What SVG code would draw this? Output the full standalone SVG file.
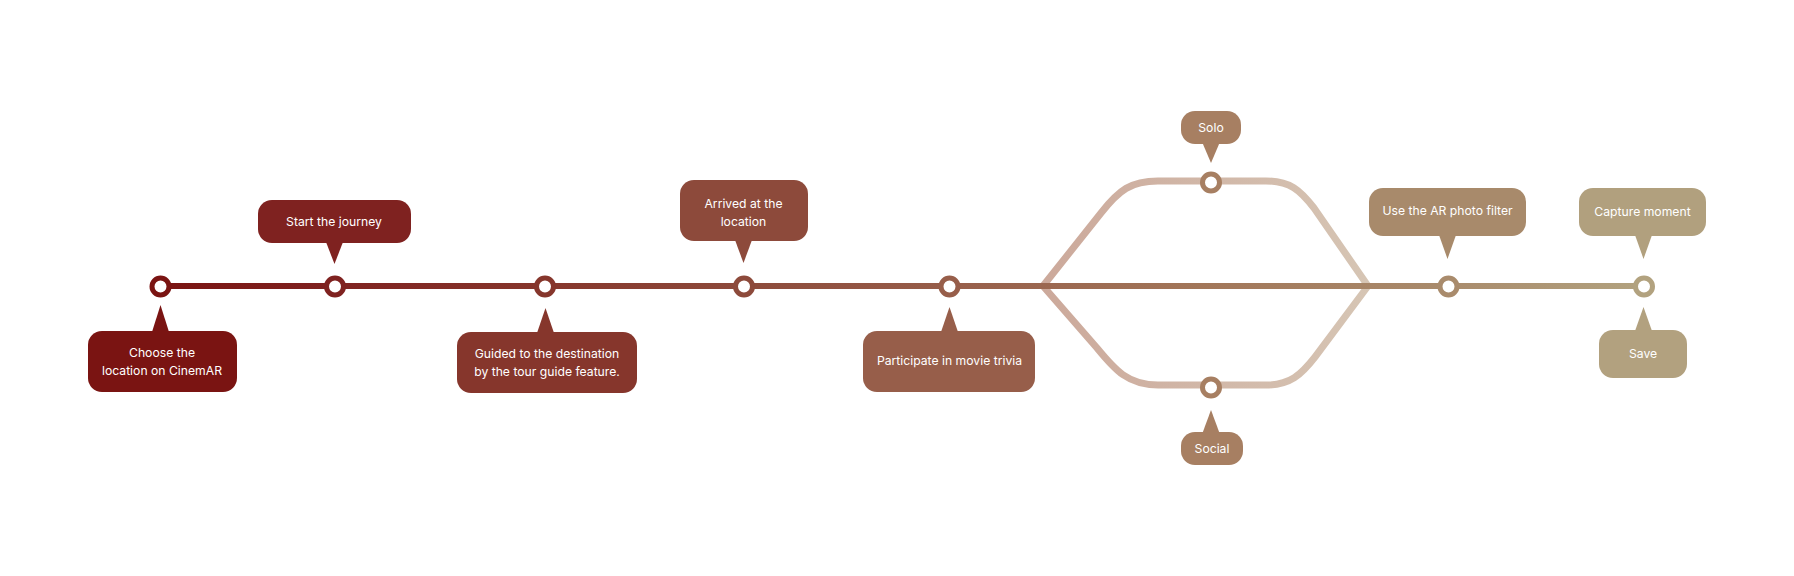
<svg xmlns="http://www.w3.org/2000/svg" width="1794" height="576" viewBox="0 0 1794 576">
<defs>
<linearGradient id="mainGrad" gradientUnits="userSpaceOnUse" x1="160" y1="0" x2="1644" y2="0">
<stop offset="0" stop-color="#7a1412"/>
<stop offset="0.118" stop-color="#7f2220"/>
<stop offset="0.259" stop-color="#86362c"/>
<stop offset="0.393" stop-color="#8d4a3b"/>
<stop offset="0.532" stop-color="#975e4a"/>
<stop offset="0.70" stop-color="#a27659"/>
<stop offset="0.868" stop-color="#a98b6c"/>
<stop offset="1" stop-color="#b2a27f"/>
</linearGradient>
<linearGradient id="branchGrad" gradientUnits="userSpaceOnUse" x1="1043" y1="0" x2="1368" y2="0">
<stop offset="0" stop-color="#cca99b"/>
<stop offset="1" stop-color="#d6c5b4"/>
</linearGradient>
<style>
.lbl{font-family:Inter,"Liberation Sans",sans-serif;font-size:12.2px;fill:#ffffff;text-anchor:middle}
.stn{fill:#ffffff;stroke-width:5}
.branch{fill:none;stroke:url(#branchGrad);stroke-width:7;stroke-linejoin:round}
.main{fill:none;stroke:url(#mainGrad);stroke-width:6}
</style>
</defs>
<rect width="1794" height="576" fill="#ffffff"/>
<g id="connectors">
<path class="branch" d="M1043 286 L1101 213 C1119 190 1131 181 1158 181 L1266 181 C1290 181 1300 190 1314 208 L1368 286"/>
<path class="branch" d="M1043 286 L1097 348 C1115 370 1128 385 1158 385 L1266 385 C1290 385 1301 375 1315 357 L1368 286"/>
<path class="main" d="M160 286 L1644 286"/>
</g>
<g id="node-choose">
<rect x="88" y="331" width="149" height="61" rx="14" fill="#7a1412"/>
<polygon points="152,332 169,332 160.5,305" fill="#7a1412"/>
<circle class="stn" cx="160.5" cy="286.5" r="8.5" stroke="#7a1412"/>
<text class="lbl" x="162" y="357">Choose the</text>
<text class="lbl" x="162" y="375">location on CinemAR</text>
</g>
<g id="node-start">
<rect x="258" y="200" width="153" height="43" rx="14" fill="#7f2220"/>
<polygon points="326,242 343,242 334.5,264" fill="#7f2220"/>
<circle class="stn" cx="335" cy="286.5" r="8.5" stroke="#7f2220"/>
<text class="lbl" x="334" y="226">Start the journey</text>
</g>
<g id="node-guided">
<rect x="457" y="332" width="180" height="61" rx="14" fill="#86362c"/>
<polygon points="537,333 554,333 545.5,308" fill="#86362c"/>
<circle class="stn" cx="545" cy="286.5" r="8.5" stroke="#86362c"/>
<text class="lbl" x="547" y="357.5">Guided to the destination</text>
<text class="lbl" x="547" y="375.5">by the tour guide feature.</text>
</g>
<g id="node-arrived">
<rect x="680" y="180" width="128" height="61" rx="14" fill="#8d4a3b"/>
<polygon points="735,240 752,240 743.5,263" fill="#8d4a3b"/>
<circle class="stn" cx="744" cy="286.5" r="8.5" stroke="#8d4a3b"/>
<text class="lbl" x="743.5" y="207.5">Arrived at the</text>
<text class="lbl" x="743.5" y="225.5">location</text>
</g>
<g id="node-trivia">
<rect x="863" y="331" width="172" height="61" rx="14" fill="#975e4a"/>
<polygon points="941,332 958,332 949.5,307" fill="#975e4a"/>
<circle class="stn" cx="949.5" cy="286.5" r="8.5" stroke="#975e4a"/>
<text class="lbl" x="949.5" y="365">Participate in movie trivia</text>
</g>
<g id="node-solo">
<rect x="1181" y="111" width="60" height="33" rx="14" fill="#a77f62"/>
<polygon points="1202.5,143 1219.5,143 1211,163" fill="#a77f62"/>
<circle class="stn" cx="1211" cy="182.5" r="8.5" stroke="#a77f62"/>
<text class="lbl" x="1211" y="131.5">Solo</text>
</g>
<g id="node-social">
<rect x="1181" y="432" width="62" height="33" rx="14" fill="#a77f62"/>
<polygon points="1202.5,433 1219.5,433 1211,410" fill="#a77f62"/>
<circle class="stn" cx="1211" cy="387.5" r="8.5" stroke="#a77f62"/>
<text class="lbl" x="1212" y="453">Social</text>
</g>
<g id="node-filter">
<rect x="1369" y="188" width="157" height="48" rx="14" fill="#a88a6b"/>
<polygon points="1439,235 1456,235 1447.5,259" fill="#a88a6b"/>
<circle class="stn" cx="1448.5" cy="286.5" r="8.5" stroke="#a98b6c"/>
<text class="lbl" x="1447.5" y="215">Use the AR photo filter</text>
</g>
<g id="node-capture">
<rect x="1579" y="188" width="127" height="48" rx="14" fill="#b1a07e"/>
<polygon points="1635,235 1652,235 1643.5,259" fill="#b1a07e"/>
<circle class="stn" cx="1644" cy="286.5" r="8.5" stroke="#b2a27f"/>
<text class="lbl" x="1642.5" y="216">Capture moment</text>
</g>
<g id="node-save">
<rect x="1599" y="330" width="88" height="48" rx="14" fill="#b2a17f"/>
<polygon points="1635,331 1652,331 1643.5,307" fill="#b2a17f"/>
<text class="lbl" x="1643" y="358">Save</text>
</g>
</svg>
